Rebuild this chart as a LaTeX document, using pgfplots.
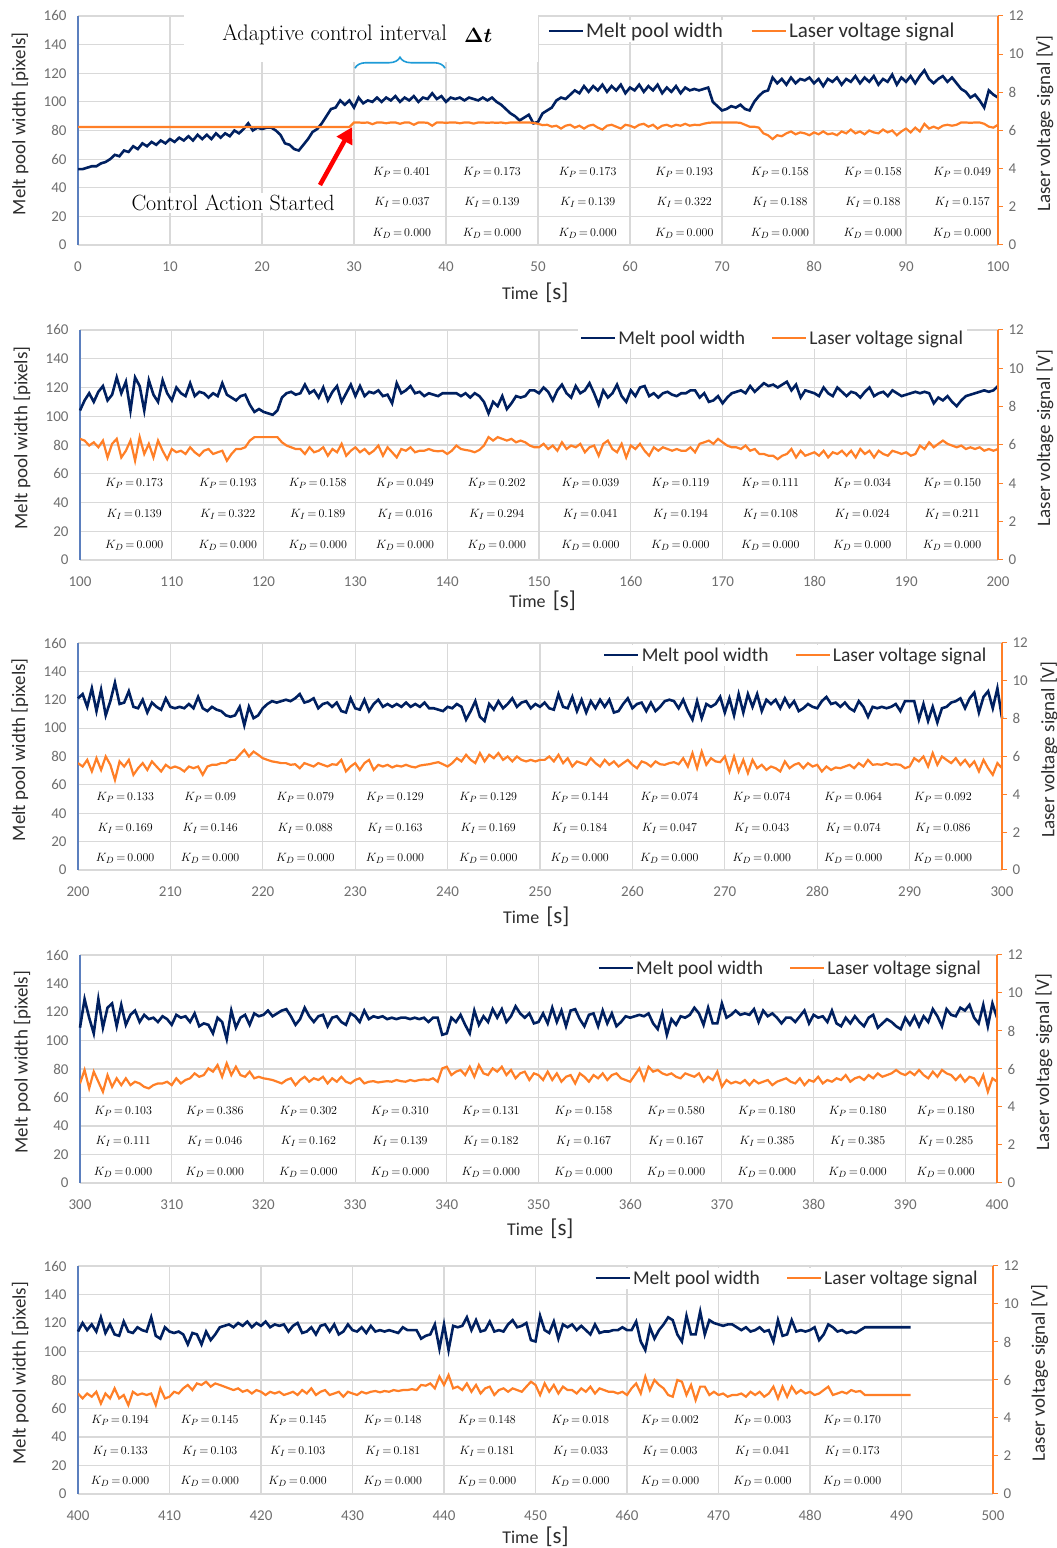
\documentclass[border=0pt]{standalone}
\usepackage{pgfplots}
\pgfplotsset{compat=1.18}
\usepackage{pgfplotstable}
\usepackage{amsmath}
\usepackage{fontspec}
\setsansfont{Carlito}
\usetikzlibrary{decorations.pathreplacing,arrows.meta}

\definecolor{navy}{RGB}{0,32,96}
\definecolor{orng}{RGB}{255,127,39}
\definecolor{gridc}{RGB}{217,217,217}
\definecolor{lax}{RGB}{91,127,190}
\definecolor{tickc}{RGB}{110,110,110}
\definecolor{labc}{RGB}{45,45,45}
\definecolor{bracec}{RGB}{30,155,215}

\pgfplotstableread[row sep=\\]{t w v\\
0 53 6.18\\ 0.5 53 6.18\\ 1 54 6.18\\ 1.5 55 6.18\\ 2 55 6.18\\ 2.5 57 6.18\\ 3 58 6.18\\ 3.5 60 6.18\\ 4 63 6.18\\ 4.5 62 6.18\\
5 66 6.18\\ 5.5 65 6.18\\ 6 69 6.18\\ 6.5 67 6.18\\ 7 71 6.18\\ 7.5 69 6.18\\ 8 72 6.18\\ 8.5 70 6.18\\ 9 73 6.18\\ 9.5 71 6.18\\
10 74 6.18\\ 10.5 72 6.18\\ 11 75 6.18\\ 11.5 73 6.18\\ 12 76 6.18\\ 12.5 73 6.18\\ 13 77 6.18\\ 13.5 74 6.18\\ 14 77 6.18\\ 14.5 74 6.18\\
15 78 6.18\\ 15.5 75 6.18\\ 16 78 6.18\\ 16.5 76 6.18\\ 17 80 6.18\\ 17.5 78 6.18\\ 18 81 6.18\\ 18.5 85 6.18\\ 19 80 6.18\\ 19.5 82 6.18\\
20 81 6.18\\ 20.5 82 6.18\\ 21 82 6.18\\ 21.5 80 6.18\\ 22 77 6.18\\ 22.5 71 6.18\\ 23 70 6.18\\ 23.5 67 6.18\\ 24 66 6.18\\ 24.5 70 6.18\\
25 74 6.18\\ 25.5 79 6.18\\ 26 81 6.18\\ 26.5 85 6.18\\ 27 90 6.18\\ 27.5 95 6.18\\ 28 96 6.18\\ 28.5 101 6.18\\ 29 98 6.18\\ 29.5 101 6.18\\
30 96 6.42\\ 30.5 103 6.42\\ 31 99 6.40\\ 31.5 101 6.42\\ 32 100 6.33\\ 32.5 103 6.42\\ 33 100 6.42\\ 33.5 103 6.38\\ 34 101 6.42\\ 34.5 104 6.42\\
35 100 6.35\\ 35.5 103 6.42\\ 36 101 6.42\\ 36.5 104 6.30\\ 37 100 6.42\\ 37.5 103 6.42\\ 38 102 6.40\\ 38.5 106 6.25\\ 39 102 6.42\\ 39.5 104 6.42\\
40 100 6.40\\ 40.5 103 6.42\\ 41 102 6.42\\ 41.5 103 6.38\\ 42 101 6.42\\ 42.5 103 6.42\\ 43 102 6.36\\ 43.5 101 6.42\\ 44 103 6.42\\ 44.5 101 6.40\\
45 103 6.42\\ 45.5 100 6.40\\ 46 98 6.42\\ 46.5 95 6.38\\ 47 92 6.42\\ 47.5 90 6.42\\ 48 87 6.42\\ 48.5 89 6.42\\ 49 91 6.42\\ 49.5 85 6.40\\
50 86 6.35\\ 50.5 92 6.28\\ 51 94 6.30\\ 51.5 96 6.20\\ 52 101 6.25\\ 52.5 103 6.10\\ 53 102 6.25\\ 53.5 105 6.30\\ 54 108 6.15\\ 54.5 106 6.25\\
55 111 6.10\\ 55.5 107 6.25\\ 56 111 6.30\\ 56.5 108 6.15\\ 57 112 6.05\\ 57.5 107 6.25\\ 58 111 6.30\\ 58.5 108 6.20\\ 59 112 6.10\\ 59.5 106 6.30\\
60 110 6.25\\ 60.5 108 6.15\\ 61 112 6.30\\ 61.5 107 6.35\\ 62 111 6.20\\ 62.5 108 6.30\\ 63 112 6.10\\ 63.5 106 6.25\\ 64 110 6.30\\ 64.5 107 6.20\\
65 111 6.30\\ 65.5 106 6.25\\ 66 110 6.35\\ 66.5 108 6.25\\ 67 109 6.30\\ 67.5 108 6.28\\ 68 109 6.35\\ 68.5 110 6.40\\ 69 100 6.42\\ 69.5 97 6.42\\
70 94 6.42\\ 70.5 95 6.42\\ 71 97 6.42\\ 71.5 96 6.42\\ 72 98 6.40\\ 72.5 95 6.30\\ 73 94 6.20\\ 73.5 100 6.20\\ 74 104 6.15\\ 74.5 107 5.85\\
75 108 5.75\\ 75.5 117 5.55\\ 76 113 5.75\\ 76.5 116 5.70\\ 77 112 5.85\\ 77.5 117 5.95\\ 78 113 5.80\\ 78.5 116 5.90\\ 79 115 5.85\\ 79.5 117 5.75\\
80 113 5.90\\ 80.5 116 5.80\\ 81 111 5.95\\ 81.5 116 5.80\\ 82 114 5.85\\ 82.5 117 5.75\\ 83 112 5.95\\ 83.5 116 5.85\\ 84 114 6.05\\ 84.5 118 5.85\\
85 113 5.95\\ 85.5 117 5.80\\ 86 114 6.00\\ 86.5 118 5.90\\ 87 112 5.85\\ 87.5 116 6.05\\ 88 114 5.90\\ 88.5 119 6.00\\ 89 112 5.75\\ 89.5 117 5.95\\
90 114 6.10\\ 90.5 118 5.90\\ 91 113 6.15\\ 91.5 118 5.95\\ 92 122 6.35\\ 92.5 116 6.10\\ 93 113 6.20\\ 93.5 116 6.10\\ 94 118 6.25\\ 94.5 114 6.30\\
95 117 6.25\\ 95.5 113 6.30\\ 96 109 6.42\\ 96.5 107 6.42\\ 97 103 6.40\\ 97.5 105 6.42\\ 98 101 6.42\\ 98.5 96 6.35\\ 99 108 6.20\\ 99.5 105 6.15\\
100 103 6.30\\
}\dA

\pgfplotstableread[row sep=\\]{t w v\\
100 104 6.32\\ 100.5 111 6.23\\ 101 116 5.97\\ 101.5 110 6.14\\ 102 117 5.88\\ 102.5 121 6.23\\ 103 111 5.35\\ 103.5 115 6.06\\ 104 127 6.32\\ 104.5 116 5.35\\
105 124 5.70\\ 105.5 104 6.23\\ 106 127 5.18\\ 106.5 121 6.41\\ 107 104 5.53\\ 107.5 125 6.06\\ 108 115 5.35\\ 108.5 110 6.23\\ 109 125 5.70\\ 109.5 116 5.26\\
110 111 5.79\\ 110.5 120 5.62\\ 111 116 5.70\\ 111.5 114 5.53\\ 112 123 5.88\\ 112.5 114 5.62\\ 113 117 5.44\\ 113.5 116 5.70\\ 114 113 5.79\\ 114.5 116 5.53\\
115 114 5.62\\ 115.5 123 5.70\\ 116 115 5.18\\ 116.5 113 5.53\\ 117 111 5.79\\ 117.5 114 5.79\\ 118 115 5.88\\ 118.5 108 6.23\\ 119 103 6.41\\ 119.5 105 6.41\\
120 103 6.41\\ 120.5 102 6.41\\ 121 101 6.41\\ 121.5 104 6.41\\ 122 113 6.14\\ 122.5 116 5.97\\ 123 117 5.88\\ 123.5 115 5.79\\ 124 116 5.79\\ 124.5 122 5.53\\
125 116 5.88\\ 125.5 118 5.62\\ 126 113 5.70\\ 126.5 120 5.88\\ 127 111 5.44\\ 127.5 117 5.79\\ 128 121 5.62\\ 128.5 110 6.06\\ 129 116 5.44\\ 129.5 122 5.70\\
130 114 5.88\\ 130.5 121 5.62\\ 131 114 5.79\\ 131.5 117 5.53\\ 132 116 5.70\\ 132.5 118 5.97\\ 133 114 5.44\\ 133.5 115 5.88\\ 134 109 5.62\\ 134.5 123 5.35\\
135 116 5.79\\ 135.5 118 5.70\\ 136 121 5.88\\ 136.5 116 5.62\\ 137 117 5.70\\ 137.5 114 5.70\\ 138 116 5.79\\ 138.5 115 5.70\\ 139 114 5.67\\ 139.5 116 5.70\\
140 116 5.53\\ 140.5 116 5.70\\ 141 116 5.97\\ 141.5 114 5.79\\ 142 116 5.74\\ 142.5 113 5.70\\ 143 116 5.62\\ 143.5 114 5.74\\ 144 110 5.97\\ 144.5 102 6.41\\
145 110 6.23\\ 145.5 107 6.41\\ 146 114 6.32\\ 146.5 105 6.23\\ 147 109 6.32\\ 147.5 114 6.14\\ 148 113 6.23\\ 148.5 114 6.14\\ 149 118 5.97\\ 149.5 118 5.88\\
150 116 5.88\\ 150.5 120 6.06\\ 151 117 5.79\\ 151.5 111 5.97\\ 152 118 5.70\\ 152.5 122 6.14\\ 153 116 5.79\\ 153.5 113 5.97\\ 154 121 5.88\\ 154.5 116 6.06\\
155 118 5.62\\ 155.5 123 5.88\\ 156 116 5.97\\ 156.5 108 5.44\\ 157 118 6.06\\ 157.5 113 6.23\\ 158 116 5.79\\ 158.5 122 5.62\\ 159 114 6.06\\ 159.5 110 5.35\\
160 118 5.97\\ 160.5 114 5.79\\ 161 120 6.06\\ 161.5 121 5.70\\ 162 114 5.44\\ 162.5 116 5.88\\ 163 113 5.70\\ 163.5 116 5.88\\ 164 117 5.79\\ 164.5 115 5.70\\
165 114 5.79\\ 165.5 116 5.70\\ 166 116 5.70\\ 166.5 118 5.88\\ 167 118 5.62\\ 167.5 113 6.06\\ 168 116 6.14\\ 168.5 110 6.23\\ 169 111 6.06\\ 169.5 114 6.32\\
170 109 6.14\\ 170.5 113 5.97\\ 171 116 5.88\\ 171.5 117 5.88\\ 172 118 5.79\\ 172.5 116 5.97\\ 173 121 5.70\\ 173.5 117 5.79\\ 174 120 5.53\\ 174.5 123 5.53\\
175 121 5.44\\ 175.5 122 5.44\\ 176 120 5.26\\ 176.5 122 5.44\\ 177 124 5.53\\ 177.5 118 5.79\\ 178 122 5.35\\ 178.5 113 5.70\\ 179 118 5.44\\ 179.5 117 5.53\\
180 116 5.62\\ 180.5 114 5.44\\ 181 120 5.70\\ 181.5 116 5.35\\ 182 114 5.62\\ 182.5 120 5.53\\ 183 117 5.70\\ 183.5 114 5.44\\ 184 117 5.70\\ 184.5 116 5.35\\
185 113 5.79\\ 185.5 117 5.53\\ 186 120 5.70\\ 186.5 114 5.35\\ 187 116 5.70\\ 187.5 117 5.53\\ 188 114 5.44\\ 188.5 118 5.70\\ 189 116 5.62\\ 189.5 114 5.53\\
190 115 5.62\\ 190.5 116 5.44\\ 191 117 5.53\\ 191.5 116 5.97\\ 192 117 5.79\\ 192.5 116 6.14\\ 193 109 5.88\\ 193.5 113 6.06\\ 194 111 6.23\\ 194.5 114 6.06\\
195 110 5.97\\ 195.5 107 5.88\\ 196 111 5.97\\ 196.5 114 5.79\\ 197 115 5.88\\ 197.5 116 5.79\\ 198 117 5.88\\ 198.5 118 5.70\\ 199 117 5.79\\ 199.5 118 5.70\\
200 121 5.79\\
}\dB

\pgfplotstableread[row sep=\\]{t w v\\
200 121 5.65\\ 200.5 124 5.47\\ 201 115 5.82\\ 201.5 128 5.21\\ 202 112 5.91\\ 202.5 127 5.29\\ 203 109 6.00\\ 203.5 119 5.56\\ 204 132 4.76\\ 204.5 117 5.74\\
205 118 5.47\\ 205.5 126 5.82\\ 206 115 5.03\\ 206.5 114 5.38\\ 207 120 5.65\\ 207.5 111 5.29\\ 208 118 5.74\\ 208.5 115 5.47\\ 209 113 5.21\\ 209.5 121 5.56\\
210 115 5.38\\ 210.5 114 5.47\\ 211 115 5.38\\ 211.5 114 5.21\\ 212 117 5.47\\ 212.5 114 5.38\\ 213 122 5.47\\ 213.5 114 5.03\\ 214 112 5.47\\ 214.5 115 5.56\\
215 113 5.56\\ 215.5 112 5.65\\ 216 109 5.65\\ 216.5 108 5.82\\ 217 109 5.82\\ 217.5 115 6.09\\ 218 102 6.35\\ 218.5 115 6.00\\ 219 107 6.26\\ 219.5 109 6.09\\
220 114 5.91\\ 220.5 117 5.82\\ 221 119 5.74\\ 221.5 118 5.70\\ 222 119 5.65\\ 222.5 120 5.65\\ 223 119 5.56\\ 223.5 121 5.59\\ 224 124 5.38\\ 224.5 118 5.65\\
225 119 5.56\\ 225.5 121 5.47\\ 226 114 5.65\\ 226.5 117 5.56\\ 227 118 5.47\\ 227.5 115 5.59\\ 228 118 5.56\\ 228.5 112 5.82\\ 229 111 5.21\\ 229.5 121 5.47\\
230 114 5.65\\ 230.5 113 5.29\\ 231 120 5.65\\ 231.5 112 5.82\\ 232 117 5.29\\ 232.5 120 5.56\\ 233 115 5.47\\ 233.5 117 5.56\\ 234 115 5.42\\ 234.5 117 5.52\\
235 115 5.47\\ 235.5 118 5.56\\ 236 115 5.47\\ 236.5 117 5.42\\ 237 115 5.52\\ 237.5 118 5.56\\ 238 114 5.59\\ 238.5 114 5.65\\ 239 113 5.70\\ 239.5 112 5.59\\
240 115 5.47\\ 240.5 114 5.65\\ 241 117 5.91\\ 241.5 115 5.74\\ 242 106 6.09\\ 242.5 112 5.82\\ 243 119 5.65\\ 243.5 108 6.18\\ 244 105 5.74\\ 244.5 117 6.09\\
245 113 5.91\\ 245.5 119 6.18\\ 246 114 5.82\\ 246.5 117 6.00\\ 247 121 5.74\\ 247.5 115 6.00\\ 248 118 5.82\\ 248.5 119 5.74\\ 249 114 5.82\\ 249.5 117 5.74\\
250 115 5.82\\ 250.5 118 5.82\\ 251 114 6.00\\ 251.5 113 5.74\\ 252 124 6.09\\ 252.5 115 5.65\\ 253 114 5.91\\ 253.5 122 5.47\\ 254 112 5.74\\ 254.5 120 5.65\\
255 111 5.56\\ 255.5 119 5.91\\ 256 114 5.65\\ 256.5 120 5.47\\ 257 115 5.82\\ 257.5 120 5.56\\ 258 111 5.74\\ 258.5 112 5.47\\ 259 117 5.65\\ 259.5 121 5.82\\
260 114 5.56\\ 260.5 117 5.38\\ 261 118 5.74\\ 261.5 112 5.65\\ 262 118 5.47\\ 262.5 112 5.74\\ 263 115 5.59\\ 263.5 119 5.56\\ 264 120 5.65\\ 264.5 119 5.70\\
265 114 5.59\\ 265.5 120 5.91\\ 266 112 5.47\\ 266.5 106 6.18\\ 267 119 5.38\\ 267.5 107 6.26\\ 268 117 5.56\\ 268.5 115 5.91\\ 269 117 5.74\\ 269.5 122 5.70\\
270 111 6.00\\ 270.5 121 5.21\\ 271 109 6.00\\ 271.5 124 5.21\\ 272 111 5.82\\ 272.5 124 5.12\\ 273 115 5.82\\ 273.5 124 5.38\\ 274 112 5.56\\ 274.5 120 5.29\\
275 117 5.47\\ 275.5 120 5.38\\ 276 114 5.21\\ 276.5 121 5.74\\ 277 115 5.38\\ 277.5 119 5.56\\ 278 112 5.65\\ 278.5 114 5.38\\ 279 117 5.65\\ 279.5 115 5.47\\
280 114 5.56\\ 280.5 119 5.21\\ 281 122 5.47\\ 281.5 117 5.29\\ 282 118 5.42\\ 282.5 115 5.38\\ 283 118 5.47\\ 283.5 114 5.56\\ 284 112 5.38\\ 284.5 119 5.65\\
285 115 5.47\\ 285.5 108 5.82\\ 286 115 5.56\\ 286.5 114 5.59\\ 287 115 5.56\\ 287.5 114 5.65\\ 288 115 5.56\\ 288.5 117 5.59\\ 289 112 5.56\\ 289.5 119 5.38\\
290 119 5.47\\ 290.5 119 5.91\\ 291 106 5.74\\ 291.5 117 6.00\\ 292 105 5.47\\ 292.5 115 6.18\\ 293 104 5.56\\ 293.5 114 6.00\\ 294 115 5.82\\ 294.5 118 5.65\\
295 119 5.91\\ 295.5 121 5.56\\ 296 114 5.82\\ 296.5 121 5.47\\ 297 125 5.74\\ 297.5 111 5.21\\ 298 122 5.82\\ 298.5 126 5.38\\ 299 114 5.03\\ 299.5 128 5.65\\
300 107 5.38\\
}\dC

\pgfplotstableread[row sep=\\]{t w v\\
300 109 5.24\\ 300.5 129 5.95\\ 301 116 4.98\\ 301.5 105 5.86\\ 302 129 5.33\\ 302.5 109 4.80\\ 303 123 5.68\\ 303.5 126 5.06\\ 304 110 5.51\\ 304.5 125 5.15\\
305 111 5.51\\ 305.5 118 5.15\\ 306 121 5.33\\ 306.5 113 5.24\\ 307 118 5.06\\ 307.5 115 4.98\\ 308 116 5.15\\ 308.5 113 5.24\\ 309 117 5.24\\ 309.5 115 5.33\\
310 111 5.15\\ 310.5 118 5.51\\ 311 116 5.24\\ 311.5 117 5.42\\ 312 113 5.51\\ 312.5 119 5.77\\ 313 110 5.59\\ 313.5 112 5.68\\ 314 111 6.03\\ 314.5 105 5.86\\
315 116 6.21\\ 315.5 113 5.59\\ 316 101 6.30\\ 316.5 121 5.68\\ 317 109 6.12\\ 317.5 116 5.68\\ 318 118 5.59\\ 318.5 111 5.86\\ 319 119 5.51\\ 319.5 117 5.59\\
320 118 5.51\\ 320.5 121 5.47\\ 321 117 5.42\\ 321.5 119 5.33\\ 322 121 5.24\\ 322.5 122 5.42\\ 323 117 5.51\\ 323.5 111 5.15\\ 324 115 5.42\\ 324.5 123 5.59\\
325 117 5.33\\ 325.5 113 5.51\\ 326 117 5.42\\ 326.5 118 5.59\\ 327 110 5.24\\ 327.5 116 5.51\\ 328 117 5.33\\ 328.5 113 5.59\\ 329 111 5.33\\ 329.5 119 5.24\\
330 117 5.42\\ 330.5 113 5.51\\ 331 121 5.24\\ 331.5 115 5.33\\ 332 117 5.36\\ 332.5 116 5.29\\ 333 117 5.33\\ 333.5 115 5.36\\ 334 116 5.33\\ 334.5 115 5.42\\
335 116 5.36\\ 335.5 116 5.33\\ 336 115 5.42\\ 336.5 116 5.36\\ 337 115 5.42\\ 337.5 116 5.45\\ 338 113 5.42\\ 338.5 116 5.51\\ 339 116 5.33\\ 339.5 104 6.03\\
340 105 6.12\\ 340.5 116 5.68\\ 341 113 5.86\\ 341.5 118 5.95\\ 342 111 5.68\\ 342.5 105 6.12\\ 343 121 5.59\\ 343.5 111 6.21\\ 344 117 5.77\\ 344.5 113 5.68\\
345 122 6.03\\ 345.5 116 5.86\\ 346 122 6.12\\ 346.5 113 5.68\\ 347 117 5.95\\ 347.5 124 5.51\\ 348 119 5.77\\ 348.5 116 5.86\\ 349 119 5.42\\ 349.5 112 5.77\\
350 113 5.68\\ 350.5 119 5.42\\ 351 112 5.86\\ 351.5 123 5.42\\ 352 113 5.77\\ 352.5 121 5.33\\ 353 110 5.59\\ 353.5 121 5.68\\ 354 122 5.24\\ 354.5 115 5.77\\
355 110 5.59\\ 355.5 118 5.33\\ 356 119 5.68\\ 356.5 110 5.51\\ 357 121 5.77\\ 357.5 112 5.42\\ 358 119 5.68\\ 358.5 110 5.77\\ 359 113 5.51\\ 359.5 117 5.42\\
360 116 5.33\\ 360.5 117 5.68\\ 361 118 6.03\\ 361.5 117 5.42\\ 362 119 6.12\\ 362.5 112 5.86\\ 363 108 5.95\\ 363.5 119 5.77\\ 364 104 5.68\\ 364.5 115 5.77\\
365 111 5.59\\ 365.5 117 5.51\\ 366 116 5.77\\ 366.5 118 5.68\\ 367 123 5.59\\ 367.5 119 5.77\\ 368 111 5.33\\ 368.5 123 5.59\\ 369 112 5.42\\ 369.5 112 5.86\\
370 126 5.06\\ 370.5 116 5.42\\ 371 118 5.24\\ 371.5 121 5.33\\ 372 118 5.24\\ 372.5 119 5.42\\ 373 118 5.15\\ 373.5 122 5.42\\ 374 113 5.24\\ 374.5 121 5.33\\
375 117 5.42\\ 375.5 119 5.15\\ 376 116 5.33\\ 376.5 112 5.42\\ 377 116 5.51\\ 377.5 116 5.33\\ 378 113 5.24\\ 378.5 117 5.51\\ 379 121 5.15\\ 379.5 112 5.42\\
380 118 5.33\\ 380.5 116 5.59\\ 381 117 5.24\\ 381.5 113 5.42\\ 382 121 5.33\\ 382.5 112 5.51\\ 383 110 5.42\\ 383.5 116 5.68\\ 384 112 5.33\\ 384.5 117 5.51\\
385 113 5.59\\ 385.5 110 5.42\\ 386 116 5.68\\ 386.5 118 5.51\\ 387 109 5.77\\ 387.5 112 5.59\\ 388 115 5.68\\ 388.5 113 5.77\\ 389 110 5.95\\ 389.5 108 5.77\\
390 116 5.68\\ 390.5 111 5.86\\ 391 117 5.68\\ 391.5 110 5.95\\ 392 117 5.68\\ 392.5 113 5.51\\ 393 122 5.86\\ 393.5 117 5.59\\ 394 110 5.95\\ 394.5 122 5.77\\
395 118 5.68\\ 395.5 117 5.42\\ 396 123 5.68\\ 396.5 121 5.33\\ 397 125 5.59\\ 397.5 116 5.51\\ 398 112 5.15\\ 398.5 125 5.68\\ 399 110 4.80\\ 399.5 126 5.51\\
400 116 5.33\\
}\dD

\pgfplotstableread[row sep=\\]{t w v\\
400 114 5.29\\ 400.5 120 5.03\\ 401 115 5.29\\ 401.5 119 5.12\\ 402 114 5.38\\ 402.5 124 4.76\\ 403 113 5.29\\ 403.5 119 5.03\\ 404 112 5.56\\ 404.5 111 5.03\\
405 121 5.21\\ 405.5 114 4.68\\ 406 113 5.38\\ 406.5 117 5.21\\ 407 115 5.29\\ 407.5 114 5.21\\ 408 124 5.29\\ 408.5 111 4.68\\ 409 109 5.56\\ 409.5 117 5.03\\
410 114 5.12\\ 410.5 113 5.38\\ 411 114 5.29\\ 411.5 112 5.56\\ 412 105 5.74\\ 412.5 113 5.47\\ 413 112 5.82\\ 413.5 105 5.74\\ 414 114 5.91\\ 414.5 108 5.65\\
415 112 5.82\\ 415.5 117 5.74\\ 416 118 5.65\\ 416.5 119 5.56\\ 417 117 5.47\\ 417.5 120 5.56\\ 418 118 5.38\\ 418.5 121 5.47\\ 419 117 5.29\\ 419.5 120 5.47\\
420 118 5.38\\ 420.5 121 5.21\\ 421 117 5.38\\ 421.5 119 5.29\\ 422 118 5.38\\ 422.5 119 5.21\\ 423 114 5.29\\ 423.5 118 5.38\\ 424 120 5.21\\ 424.5 113 5.47\\
425 114 5.29\\ 425.5 117 5.56\\ 426 112 5.21\\ 426.5 118 5.38\\ 427 119 5.47\\ 427.5 114 5.21\\ 428 119 5.29\\ 428.5 112 5.38\\ 429 114 5.12\\ 429.5 119 5.38\\
430 115 5.29\\ 430.5 114 5.21\\ 431 117 5.38\\ 431.5 113 5.29\\ 432 118 5.38\\ 432.5 114 5.42\\ 433 115 5.35\\ 433.5 114 5.42\\ 434 115 5.38\\ 434.5 114 5.47\\
435 113 5.42\\ 435.5 117 5.47\\ 436 115 5.47\\ 436.5 115 5.52\\ 437 115 5.47\\ 437.5 109 5.74\\ 438 111 5.70\\ 438.5 112 5.82\\ 439 119 5.56\\ 439.5 102 6.18\\
440 119 5.74\\ 440.5 101 6.26\\ 441 118 5.56\\ 441.5 117 5.65\\ 442 118 5.47\\ 442.5 124 5.82\\ 443 115 5.38\\ 443.5 122 5.74\\ 444 114 5.29\\ 444.5 115 5.56\\
445 121 5.65\\ 445.5 114 5.21\\ 446 115 5.47\\ 446.5 114 5.56\\ 447 119 5.38\\ 447.5 122 5.56\\ 448 117 5.47\\ 448.5 118 5.38\\ 449 120 5.65\\ 449.5 108 5.91\\
450 107 5.74\\ 450.5 125 5.21\\ 451 115 5.82\\ 451.5 113 5.38\\ 452 121 5.74\\ 452.5 109 5.29\\ 453 119 5.65\\ 453.5 117 5.47\\ 454 119 5.47\\ 454.5 115 5.29\\
455 118 5.56\\ 455.5 115 5.38\\ 456 112 5.65\\ 456.5 119 5.29\\ 457 113 5.56\\ 457.5 114 5.47\\ 458 114 5.38\\ 458.5 115 5.38\\ 459 115 5.29\\ 459.5 117 5.38\\
460 115 5.21\\ 460.5 115 5.56\\ 461 121 5.82\\ 461.5 107 5.29\\ 462 101 6.18\\ 462.5 117 5.47\\ 463 109 6.00\\ 463.5 115 5.74\\ 464 119 5.56\\ 464.5 124 5.21\\
465 122 5.12\\ 465.5 112 6.00\\ 466 107 5.91\\ 466.5 125 5.21\\ 467 112 5.74\\ 467.5 112 4.94\\ 468 128 5.65\\ 468.5 112 5.65\\ 469 122 5.21\\ 469.5 120 5.38\\
470 119 5.21\\ 470.5 118 5.29\\ 471 119 5.12\\ 471.5 119 5.21\\ 472 117 5.21\\ 472.5 115 5.29\\ 473 117 5.12\\ 473.5 114 5.38\\ 474 115 5.21\\ 474.5 117 5.38\\
475 114 5.12\\ 475.5 115 5.29\\ 476 107 5.65\\ 476.5 122 5.03\\ 477 111 5.65\\ 477.5 112 5.12\\ 478 122 5.65\\ 478.5 114 5.29\\ 479 115 5.47\\ 479.5 114 5.29\\
480 115 5.38\\ 480.5 117 5.21\\ 481 108 5.29\\ 481.5 112 5.47\\ 482 119 5.65\\ 482.5 117 5.21\\ 483 114 5.29\\ 483.5 115 5.38\\ 484 113 5.29\\ 484.5 114 5.47\\
485 113 5.38\\ 485.5 115 5.42\\ 486 117 5.21\\ 491 117 5.21\\
}\dE

\tikzset{
  bluestyle/.style={navy, line width=2.6pt},
  orngstyle/.style={orng, line width=2.2pt},
  klab/.style={fill=white, inner sep=1.5pt, font=\fontsize{13}{13}\selectfont},
}
\pgfplotsset{
  legend image code/.code={\draw[#1] (0pt,0pt) -- (34pt,0pt);},
  leftax/.style={
    scale only axis, anchor=south west, ymin=0, ymax=160, ytick={0,20,...,160},
    xtick distance=10,
    xmajorgrids, ymajorgrids, grid style={draw=gridc, line width=1.1pt},
    axis x line*=bottom, axis y line*=left,
    x axis line style={draw=gridc, line width=1.1pt},
    y axis line style={draw=lax, line width=1.3pt},
    major tick length=0pt,
    tick label style={font=\sffamily\fontsize{15}{15}\selectfont, text=tickc},
    xticklabel style={yshift=-13pt},
    yticklabel style={xshift=-8pt},
    /pgf/number format/assume math mode=true,
    ylabel={Melt pool width [pixels]},
    ylabel style={font=\sffamily\fontsize{19}{19}\selectfont, text=labc, at={(axis description cs:-0.063,0.53)}, anchor=center},
    xlabel={Time\, {\fontsize{23}{23}\selectfont[s]}},
    xlabel style={font=\sffamily\fontsize{18}{18}\selectfont, text=labc, anchor=center},
    clip=false,
  },
  rightax/.style={
    scale only axis, anchor=south west, ymin=0, ymax=12, ytick={0,2,...,12},
    axis x line=none, axis y line*=right,
    y axis line style={draw=orng, line width=1.3pt},
    ytick style={draw=orng, line width=1pt}, major tick length=5pt, tick align=outside,
    yticklabel style={font=\sffamily\fontsize{15}{15}\selectfont, text=tickc, xshift=2pt},
    /pgf/number format/assume math mode=true,
    ylabel={Laser voltage signal [V]},
    ylabel style={font=\sffamily\fontsize{19}{19}\selectfont, text=labc, at={(axis description cs:1.051,0.53)}, anchor=center},
    legend columns=2,
    legend cell align=left,
    legend style={draw=none, fill=white, inner xsep=2pt, inner ysep=1pt,
      font=\sffamily\fontsize{19.5}{19.5}\selectfont, text=labc, anchor=west,
      /tikz/every even column/.append style={column sep=24pt}},
  },
}
\newcommand{\Kcol}[6]{%
  \node[klab] at (axis cs:#1,#2) {$K_P\,{=}\,#5$};
  \node[klab] at (axis cs:#1,#3) {$K_I\,{=}\,#6$};
  \node[klab] at (axis cs:#1,#4) {$K_D\,{=}\,0.000$};}

\begin{document}
\begin{tikzpicture}
\useasboundingbox (0,0) rectangle (1057pt,1548pt);

% ---------------- Panel 1 ----------------
\begin{axis}[leftax, at={(78pt,1303pt)}, width=920pt, height=229pt, xmin=0, xmax=100,
  xlabel style={at={(axis description cs:0.497,-0.21)}}]
\fill[white] (axis cs:11.5,161) rectangle (axis cs:50,128);
\addplot[bluestyle] table[x=t,y=w] {\dA};
\Kcol{35.2}{51}{30}{8.4}{0.401}{0.037}
\Kcol{45}{51}{30}{8.4}{0.173}{0.139}
\Kcol{55.4}{51}{30}{8.4}{0.173}{0.139}
\Kcol{65.9}{51}{30}{8.4}{0.193}{0.322}
\Kcol{76.3}{51}{30}{8.4}{0.158}{0.188}
\Kcol{86.4}{51}{30}{8.4}{0.158}{0.188}
\Kcol{96.1}{51}{30}{8.4}{0.049}{0.157}
\node[font=\fontsize{22.5}{22.5}\selectfont, text=black] at (axis cs:27.9,146.7) {Adaptive control interval};
\node[font=\fontsize{22}{22}\selectfont, text=black] at (axis cs:43.5,146.7) {$\boldsymbol{\Delta t}$};
\draw[bracec, line width=1.6pt, decorate, decoration={brace, amplitude=11pt}] (axis cs:30.1,123.5) -- (axis cs:39.9,123.5);
\node[fill=white, inner sep=2pt, font=\fontsize{22}{22}\selectfont, text=black] at (axis cs:16.85,29.3) {Control Action Started};
\draw[red, line width=4.5pt, -{Triangle[length=16pt,width=17pt]}] (axis cs:26.3,41.9) -- (axis cs:29.8,82.4);
\end{axis}
\begin{axis}[rightax, at={(78pt,1303pt)}, width=920pt, height=229pt, xmin=0, xmax=100,
  legend style={at={(0.508,0.934)}, font=\sffamily\fontsize{21}{21}\selectfont, /tikz/every even column/.append style={column sep=26pt}}]
\addlegendimage{bluestyle}\addlegendentry{Melt pool width}
\addplot[orngstyle] table[x=t,y=v] {\dA};\addlegendentry{Laser voltage signal}
\end{axis}

% ---------------- Panel 2 ----------------
\begin{axis}[leftax, at={(80pt,988pt)}, width=918pt, height=230pt, xmin=100, xmax=200,
  xlabel style={at={(axis description cs:0.504,-0.178)}}]
\addplot[bluestyle] table[x=t,y=w] {\dB};
\Kcol{105.9}{53.6}{32}{10.4}{0.173}{0.139}
\Kcol{116.1}{53.6}{32}{10.4}{0.193}{0.322}
\Kcol{125.9}{53.6}{32}{10.4}{0.158}{0.189}
\Kcol{135.4}{53.6}{32}{10.4}{0.049}{0.016}
\Kcol{145.4}{53.6}{32}{10.4}{0.202}{0.294}
\Kcol{155.6}{53.6}{32}{10.4}{0.039}{0.041}
\Kcol{165.4}{53.6}{32}{10.4}{0.119}{0.194}
\Kcol{175.2}{53.6}{32}{10.4}{0.111}{0.108}
\Kcol{185.2}{53.6}{32}{10.4}{0.034}{0.024}
\Kcol{195}{53.6}{32}{10.4}{0.150}{0.211}
\end{axis}
\begin{axis}[rightax, at={(80pt,988pt)}, width=918pt, height=230pt, xmin=100, xmax=200,
  legend style={at={(0.542,0.965)}}]
\addlegendimage{bluestyle}\addlegendentry{Melt pool width}
\addplot[orngstyle] table[x=t,y=v] {\dB};\addlegendentry{Laser voltage signal}
\end{axis}

% ---------------- Panel 3 ----------------
\begin{axis}[leftax, at={(78pt,678pt)}, width=924pt, height=227pt, xmin=200, xmax=300,
  xlabel style={at={(axis description cs:0.496,-0.207)}}]
\addplot[bluestyle] table[x=t,y=w] {\dC};
\Kcol{205.1}{51.5}{29.6}{8.5}{0.133}{0.169}
\Kcol{214.3}{51.5}{29.6}{8.5}{0.09}{0.146}
\Kcol{224.6}{51.5}{29.6}{8.5}{0.079}{0.088}
\Kcol{234.3}{51.5}{29.6}{8.5}{0.129}{0.163}
\Kcol{244.4}{51.5}{29.6}{8.5}{0.129}{0.169}
\Kcol{254.3}{51.5}{29.6}{8.5}{0.144}{0.184}
\Kcol{264}{51.5}{29.6}{8.5}{0.074}{0.047}
\Kcol{274}{51.5}{29.6}{8.5}{0.074}{0.043}
\Kcol{283.9}{51.5}{29.6}{8.5}{0.064}{0.074}
\Kcol{293.6}{51.5}{29.6}{8.5}{0.092}{0.086}
\end{axis}
\begin{axis}[rightax, at={(78pt,678pt)}, width=924pt, height=227pt, xmin=200, xmax=300,
  legend style={at={(0.566,0.947)}}]
\addlegendimage{bluestyle}\addlegendentry{Melt pool width}
\addplot[orngstyle] table[x=t,y=v] {\dC};\addlegendentry{Laser voltage signal}
\end{axis}

% ---------------- Panel 4 ----------------
\begin{axis}[leftax, at={(80pt,365pt)}, width=917pt, height=228pt, xmin=300, xmax=400,
  xlabel style={at={(axis description cs:0.502,-0.202)}}]
\addplot[bluestyle] table[x=t,y=w] {\dD};
\Kcol{304.7}{50.5}{29.5}{7.7}{0.103}{0.111}
\Kcol{314.7}{50.5}{29.5}{7.7}{0.386}{0.046}
\Kcol{324.9}{50.5}{29.5}{7.7}{0.302}{0.162}
\Kcol{334.9}{50.5}{29.5}{7.7}{0.310}{0.139}
\Kcol{344.8}{50.5}{29.5}{7.7}{0.131}{0.182}
\Kcol{354.9}{50.5}{29.5}{7.7}{0.158}{0.167}
\Kcol{365}{50.5}{29.5}{7.7}{0.580}{0.167}
\Kcol{374.9}{50.5}{29.5}{7.7}{0.180}{0.385}
\Kcol{384.8}{50.5}{29.5}{7.7}{0.180}{0.385}
\Kcol{394.4}{50.5}{29.5}{7.7}{0.180}{0.285}
\end{axis}
\begin{axis}[rightax, at={(80pt,365pt)}, width=917pt, height=228pt, xmin=300, xmax=400,
  legend style={at={(0.562,0.943)}}]
\addlegendimage{bluestyle}\addlegendentry{Melt pool width}
\addplot[orngstyle] table[x=t,y=v] {\dD};\addlegendentry{Laser voltage signal}
\end{axis}

% ---------------- Panel 5 ----------------
\begin{axis}[leftax, at={(78pt,54pt)}, width=915pt, height=228pt, xmin=400, xmax=500,
  xlabel style={at={(axis description cs:0.5,-0.189)}}]
\addplot[bluestyle] table[x=t,y=w] {\dE};
\Kcol{404.6}{51.9}{30.2}{9.1}{0.194}{0.133}
\Kcol{414.4}{51.9}{30.2}{9.1}{0.145}{0.103}
\Kcol{424}{51.9}{30.2}{9.1}{0.145}{0.103}
\Kcol{434.4}{51.9}{30.2}{9.1}{0.148}{0.181}
\Kcol{444.7}{51.9}{30.2}{9.1}{0.148}{0.181}
\Kcol{454.9}{51.9}{30.2}{9.1}{0.018}{0.033}
\Kcol{464.7}{51.9}{30.2}{9.1}{0.002}{0.003}
\Kcol{474.8}{51.9}{30.2}{9.1}{0.003}{0.041}
\Kcol{484.6}{51.9}{30.2}{9.1}{0.170}{0.173}
\end{axis}
\begin{axis}[rightax, at={(78pt,54pt)}, width=915pt, height=228pt, xmin=400, xmax=500,
  legend style={at={(0.562,0.947)}}]
\addlegendimage{bluestyle}\addlegendentry{Melt pool width}
\addplot[orngstyle] table[x=t,y=v] {\dE};\addlegendentry{Laser voltage signal}
\end{axis}
\end{tikzpicture}
\end{document}
